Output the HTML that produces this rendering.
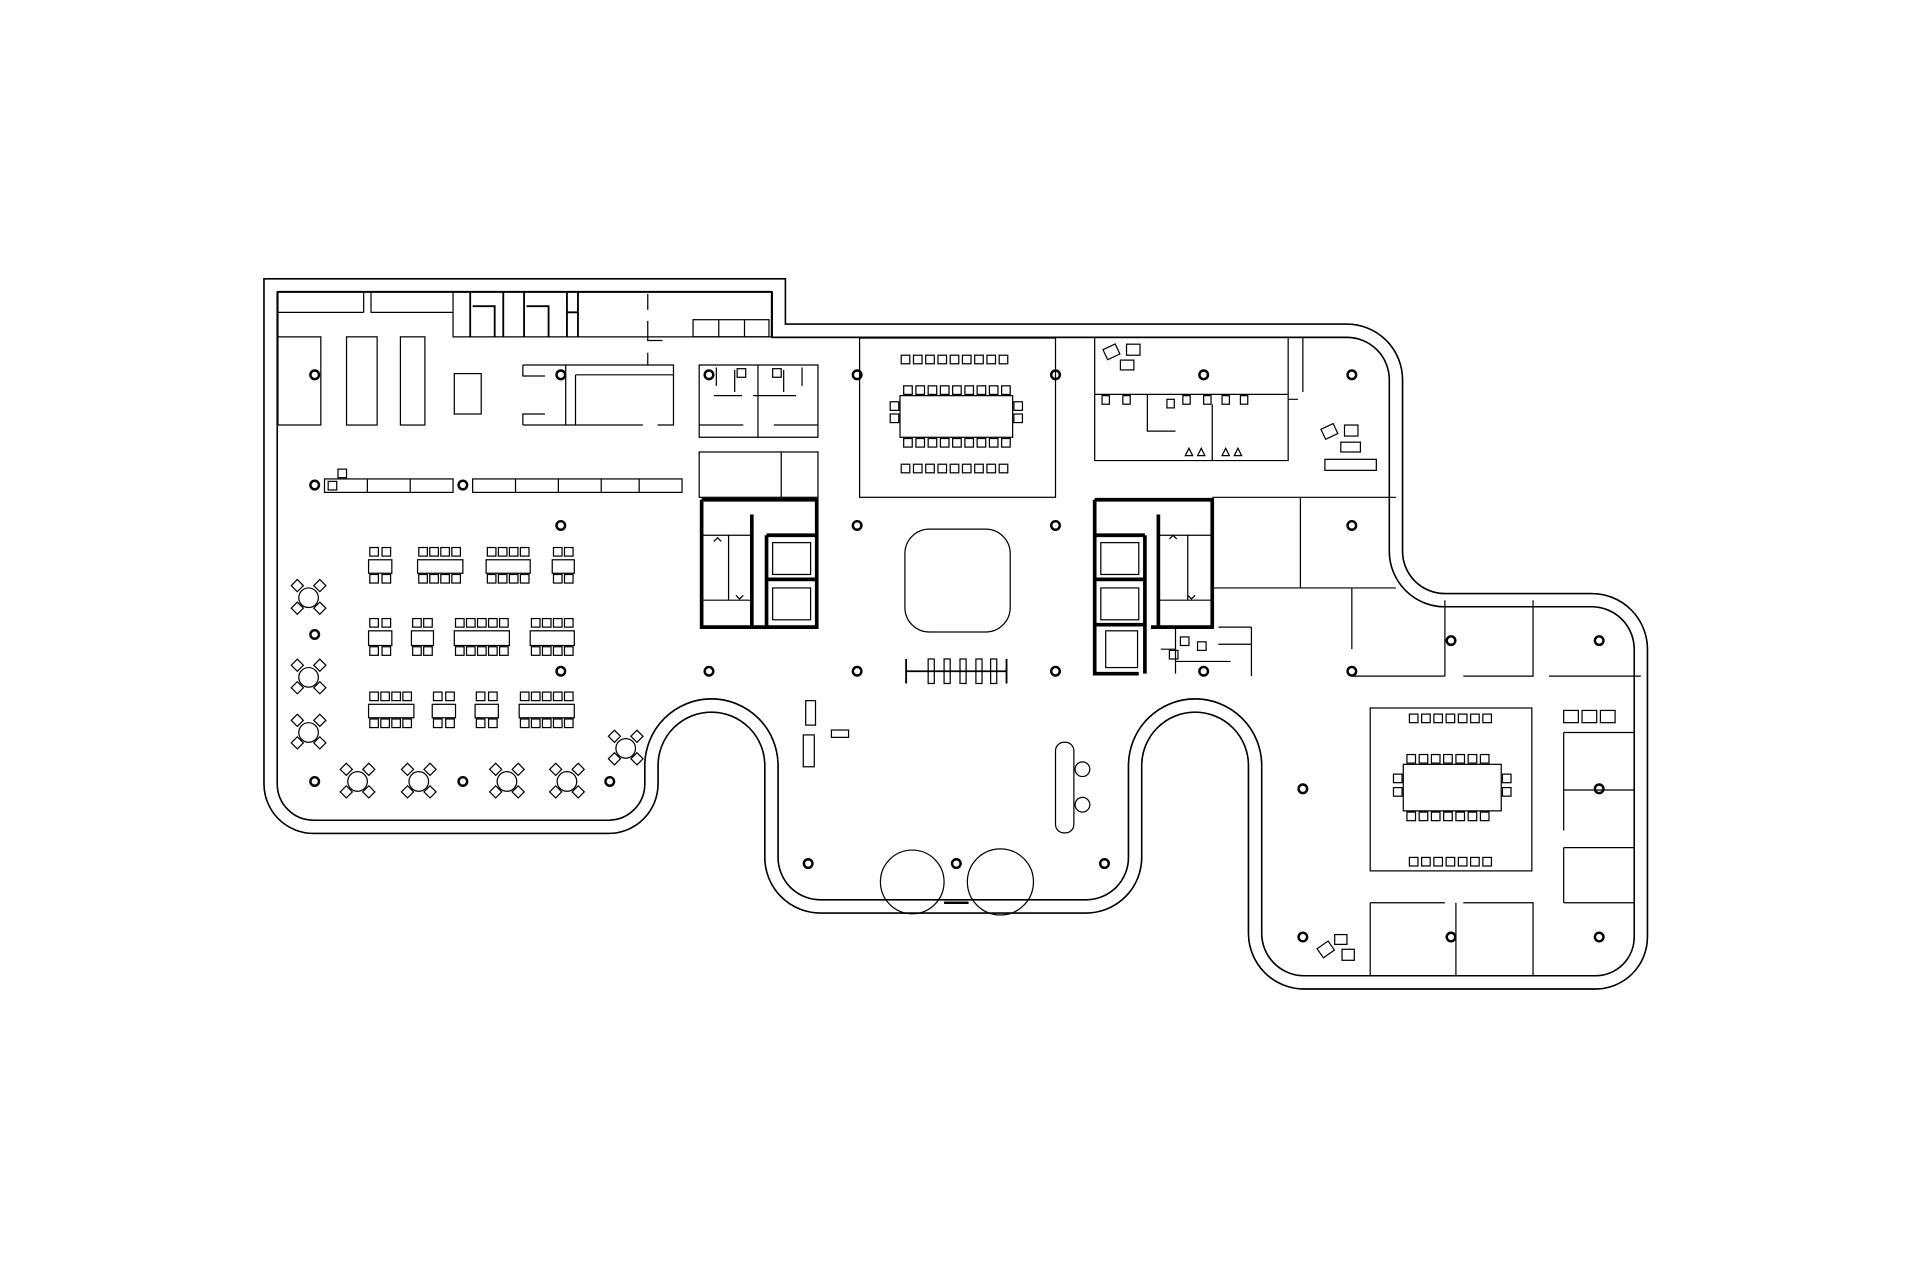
<!DOCTYPE html>
<html><head><meta charset="utf-8"><style>html,body{margin:0;padding:0;background:#fff}svg{display:block}</style></head>
<body>
<svg width="1920" height="1280" viewBox="0 0 1568 1045" preserveAspectRatio="none" xmlns="http://www.w3.org/2000/svg">
<defs>
<g id="ch"><rect x="0" y="0" width="7" height="7" fill="#fff" stroke="#000" stroke-width="1"/></g>
<g id="rt"><circle cx="0" cy="0" r="8" fill="#fff" stroke="#000" stroke-width="1"/>
<rect x="-4" y="-4" width="7" height="7" transform="rotate(45) translate(0,-13)" fill="#fff" stroke="#000"/>
<rect x="-4" y="-4" width="7" height="7" transform="rotate(45) translate(0,13)" fill="#fff" stroke="#000"/>
<rect x="-4" y="-4" width="7" height="7" transform="rotate(45) translate(13,0)" fill="#fff" stroke="#000"/>
<rect x="-4" y="-4" width="7" height="7" transform="rotate(45) translate(-13,0)" fill="#fff" stroke="#000"/></g>
<g id="col"><circle cx="0" cy="0" r="3.5" fill="none" stroke="#000" stroke-width="2"/></g>
</defs>
<rect width="1568" height="1045" fill="#fff"/>
<!-- outer wall -->
<path id="wall" d="M221,233 H636 V270 H1100 A40,40 0 0 1 1140,310 V450 A40,40 0 0 0 1180,490 H1300 A40,40 0 0 1 1340,530 V765 A37,37 0 0 1 1303,802 H1065 A40,40 0 0 1 1025,762 V625 A49,49 0 0 0 927,625 V700 A40,40 0 0 1 887,740 H670 A40,40 0 0 1 630,700 V625 A49,49 0 0 0 532,625 V640 A35,35 0 0 1 497,675 H256 A35,35 0 0 1 221,640 Z" fill="none" stroke="#000" stroke-width="12"/>
<use href="#wall" stroke="#fff" stroke-width="9.5"/>
<path d="M221,233 H636 V270 H1100 A40,40 0 0 1 1140,310 V450 A40,40 0 0 0 1180,490 H1300 A40,40 0 0 1 1340,530 V765 A37,37 0 0 1 1303,802 H1065 A40,40 0 0 1 1025,762 V625 A49,49 0 0 0 927,625 V700 A40,40 0 0 1 887,740 H670 A40,40 0 0 1 630,700 V625 A49,49 0 0 0 532,625 V640 A35,35 0 0 1 497,675 H256 A35,35 0 0 1 221,640 Z" fill="none" stroke="#fff" stroke-width="9.5"/>

<g fill="none" stroke="#000" stroke-width="1">
<!-- top left service -->
<path d="M227,347 V238 H370 V275 H630 V238 H227"/>
<path d="M227,255 H297 M303,238 V255 H370 M297,238 V255"/>
<path d="M227,275 H262 V347 H227"/>
<rect x="283" y="275" width="25" height="72"/><rect x="327" y="275" width="20" height="72"/><rect x="371" y="305" width="22" height="33"/>
<path d="M384,238 V275 M386,250 H404 V275 M411,238 V275 M428,238 V275 M430,250 H448 V275 M463,238 V275 M463,255 H472 M472,238 V275" stroke-width="1.5"/>
<path d="M529,240 V253 M529,262 V278 H541 M529,288 V298"/>
<rect x="566" y="261" width="62" height="14"/><path d="M587,261V275M608,261V275"/>
<path d="M427,298 H550 V347 H537 M525,347 H427 M427,298 V307 H445 M427,347 V338 H445 M462,298 V347 M470,306 H550 M470,306 V347"/>
<!-- small room block -->
<path d="M571,298 H668 V357 H571 Z" />
<path d="M619,298 V357 M583,323 H606 M615,323 H650 M571,347 H607 M632,347 H668 M600,302 V320 M640,302 V320 M585,300 V315 M655,300 V315"/>
<rect x="602" y="301" width="7" height="7"/><rect x="631" y="301" width="7" height="7"/>
<rect x="571" y="369" width="97" height="37"/><path d="M638,369 V406"/>
<!-- left elevator core -->
<path d="M573,408 V512 H667 V408 H573" stroke-width="3"/>
<path d="M614,420 V512 M626,437 V512 M626,437 H667 M626,473 H667" stroke-width="3"/>
<path d="M573,437 H614 M573,490 H614 M595,437 V490"/>
<rect x="631" y="443" width="31" height="26"/><rect x="631" y="480" width="31" height="26"/>
<!-- right elevator core -->
<path d="M894,408 V550 H930 M894,408 H990 V512 H940" stroke-width="3"/>
<path d="M946,420 V512 M935,437 V550 M894,437 H935 M894,473 H935 M894,510 H935" stroke-width="3"/>
<path d="M946,437 H990 M946,490 H990 M970,437 V490"/>
<rect x="899" y="443" width="31" height="26"/><rect x="899" y="480" width="31" height="26"/><rect x="903" y="515" width="26" height="30"/>
<path d="M960,512 V550 M948,530 H960 M990,482 V512 M995,512 H1022 M995,526 H1022 M1022,512 V552 M960,540 H1005"/>
<rect x="964" y="520" width="7" height="7"/><rect x="978" y="524" width="7" height="7"/><rect x="955" y="531" width="7" height="7"/>
<!-- conference center -->
<rect x="702" y="276" width="160" height="130"/>
<rect x="735" y="323" width="92" height="34"/>
<!-- upper right rooms -->
<path d="M894,276 V376 H1052 V276 M894,322 H1052 M937,322 V352 H960 M990,330 V376 M1052,326 H1060"/>
<path d="M990,406 H1140 M1062,406 V480 M990,480 H1140 M1064,276 V320"/>
<rect x="1082" y="375" width="42" height="9"/><rect x="1095" y="361" width="16" height="8"/>
<!-- right wing rooms -->
<path d="M1104,480 V530 M1104,552 H1180 M1180,490 V552 M1195,552 H1252 V490 M1265,552 H1340"/>
<rect x="1119" y="578" width="132" height="133"/>
<rect x="1146" y="624" width="80" height="38"/>
<path d="M1277,598 H1335 M1277,598 V678 M1277,692 V737 M1277,645 H1335 M1277,692 H1335 M1277,737 H1335"/>
<path d="M1119,737 V797 M1119,737 H1180 M1195,737 H1252 V797 M1189,737 V797"/>
<rect x="1277" y="580" width="12" height="10"/><rect x="1292" y="580" width="12" height="10"/><rect x="1307" y="580" width="12" height="10"/>
<!-- atrium -->
<rect x="739" y="432" width="86" height="84" rx="20"/>
<path d="M740,548 H822 M740,538 V558 M822,538 V558" stroke-width="1.5"/>
<rect x="758" y="538" width="5" height="20"/><rect x="771" y="538" width="5" height="20"/><rect x="784" y="538" width="5" height="20"/><rect x="797" y="538" width="5" height="20"/><rect x="809" y="538" width="5" height="20"/>
<!-- lobby furniture -->
<rect x="658" y="572" width="8" height="20"/><rect x="656" y="600" width="9" height="26"/><rect x="679" y="596" width="14" height="6"/>
<rect x="862" y="606" width="15" height="74" rx="7"/>
<circle cx="884" cy="628" r="6"/><circle cx="884" cy="657" r="6"/>
<circle cx="745" cy="720" r="26"/><circle cx="817" cy="720" r="27"/>
<path d="M771,737 H791" stroke-width="2"/>
<!-- counters -->
<rect x="265" y="391" width="105" height="11"/><path d="M300,391V402M335,391V402"/><rect x="268" y="393" width="7" height="7"/><rect x="276" y="383" width="7" height="7"/>
<rect x="386" y="391" width="171" height="11"/><path d="M421,391V402M456,391V402M491,391V402M522,391V402"/>
<!-- lounge items -->
<rect x="902" y="283" width="11" height="9" transform="rotate(-25 907 287)"/><rect x="920" y="281" width="11" height="9"/><rect x="915" y="294" width="11" height="8"/>
<rect x="1080" y="348" width="11" height="9" transform="rotate(-25 1085 352)"/><rect x="1098" y="347" width="11" height="9"/>
<rect x="1077" y="771" width="11" height="9" transform="rotate(-35 1082 775)"/><rect x="1090" y="763" width="10" height="8"/><rect x="1096" y="775" width="10" height="9"/>
</g>
<g stroke="#000" fill="none"><path d="M968,372 l3,-6 l3,6z M978,372 l3,-6 l3,6z M998,372 l3,-6 l3,6z M1008,372 l3,-6 l3,6z"/><path d="M583,442 l3,-3 l3,3 M601,486 l3,3 l3,-3 M955,440 l3,-3 l3,3 M970,486 l3,3 l3,-3"/></g>
<!-- small bathroom fixtures upper right -->
<g fill="#fff" stroke="#000"><rect x="900" y="323" width="6" height="7"/><rect x="917" y="323" width="6" height="7"/><rect x="953" y="326" width="6" height="7"/><rect x="966" y="323" width="6" height="7"/><rect x="983" y="323" width="6" height="7"/><rect x="998" y="323" width="6" height="7"/><rect x="1013" y="323" width="6" height="7"/></g>

<!-- conference chairs -->
<g>
<use href="#ch" x="736" y="290"/><use href="#ch" x="746" y="290"/><use href="#ch" x="756" y="290"/><use href="#ch" x="766" y="290"/><use href="#ch" x="776" y="290"/><use href="#ch" x="786" y="290"/><use href="#ch" x="796" y="290"/><use href="#ch" x="806" y="290"/><use href="#ch" x="816" y="290"/>
<use href="#ch" x="736" y="379"/><use href="#ch" x="746" y="379"/><use href="#ch" x="756" y="379"/><use href="#ch" x="766" y="379"/><use href="#ch" x="776" y="379"/><use href="#ch" x="786" y="379"/><use href="#ch" x="796" y="379"/><use href="#ch" x="806" y="379"/><use href="#ch" x="816" y="379"/>
<use href="#ch" x="738" y="315"/><use href="#ch" x="748" y="315"/><use href="#ch" x="758" y="315"/><use href="#ch" x="768" y="315"/><use href="#ch" x="778" y="315"/><use href="#ch" x="788" y="315"/><use href="#ch" x="798" y="315"/><use href="#ch" x="808" y="315"/><use href="#ch" x="818" y="315"/>
<use href="#ch" x="738" y="358"/><use href="#ch" x="748" y="358"/><use href="#ch" x="758" y="358"/><use href="#ch" x="768" y="358"/><use href="#ch" x="778" y="358"/><use href="#ch" x="788" y="358"/><use href="#ch" x="798" y="358"/><use href="#ch" x="808" y="358"/><use href="#ch" x="818" y="358"/>
<use href="#ch" x="727" y="328"/><use href="#ch" x="727" y="338"/><use href="#ch" x="828" y="328"/><use href="#ch" x="828" y="338"/>
<!-- right conference -->
<use href="#ch" x="1151" y="583"/><use href="#ch" x="1161" y="583"/><use href="#ch" x="1171" y="583"/><use href="#ch" x="1181" y="583"/><use href="#ch" x="1191" y="583"/><use href="#ch" x="1201" y="583"/><use href="#ch" x="1211" y="583"/>
<use href="#ch" x="1151" y="700"/><use href="#ch" x="1161" y="700"/><use href="#ch" x="1171" y="700"/><use href="#ch" x="1181" y="700"/><use href="#ch" x="1191" y="700"/><use href="#ch" x="1201" y="700"/><use href="#ch" x="1211" y="700"/>
<use href="#ch" x="1149" y="616"/><use href="#ch" x="1159" y="616"/><use href="#ch" x="1169" y="616"/><use href="#ch" x="1179" y="616"/><use href="#ch" x="1189" y="616"/><use href="#ch" x="1199" y="616"/><use href="#ch" x="1209" y="616"/>
<use href="#ch" x="1149" y="663"/><use href="#ch" x="1159" y="663"/><use href="#ch" x="1169" y="663"/><use href="#ch" x="1179" y="663"/><use href="#ch" x="1189" y="663"/><use href="#ch" x="1199" y="663"/><use href="#ch" x="1209" y="663"/>
<use href="#ch" x="1138" y="632"/><use href="#ch" x="1138" y="643"/><use href="#ch" x="1227" y="632"/><use href="#ch" x="1227" y="643"/>
</g>
<!-- dining tables -->
<g fill="none" stroke="#000">
<rect x="301" y="457" width="19" height="11"/><rect x="341" y="457" width="37" height="11"/><rect x="397" y="457" width="36" height="11"/><rect x="451" y="457" width="18" height="11"/>
<rect x="301" y="515" width="19" height="12"/><rect x="336" y="515" width="18" height="12"/><rect x="371" y="515" width="45" height="12"/><rect x="433" y="515" width="36" height="12"/>
<rect x="301" y="575" width="37" height="11"/><rect x="353" y="575" width="19" height="11"/><rect x="388" y="575" width="19" height="11"/><rect x="424" y="575" width="45" height="11"/>
</g>
<g>
<use href="#ch" x="302" y="447"/><use href="#ch" x="312" y="447"/><use href="#ch" x="302" y="469"/><use href="#ch" x="312" y="469"/>
<use href="#ch" x="342" y="447"/><use href="#ch" x="351" y="447"/><use href="#ch" x="360" y="447"/><use href="#ch" x="369" y="447"/><use href="#ch" x="342" y="469"/><use href="#ch" x="351" y="469"/><use href="#ch" x="360" y="469"/><use href="#ch" x="369" y="469"/>
<use href="#ch" x="398" y="447"/><use href="#ch" x="407" y="447"/><use href="#ch" x="416" y="447"/><use href="#ch" x="425" y="447"/><use href="#ch" x="398" y="469"/><use href="#ch" x="407" y="469"/><use href="#ch" x="416" y="469"/><use href="#ch" x="425" y="469"/>
<use href="#ch" x="452" y="447"/><use href="#ch" x="461" y="447"/><use href="#ch" x="452" y="469"/><use href="#ch" x="461" y="469"/>
<use href="#ch" x="302" y="505"/><use href="#ch" x="312" y="505"/><use href="#ch" x="302" y="528"/><use href="#ch" x="312" y="528"/>
<use href="#ch" x="337" y="505"/><use href="#ch" x="346" y="505"/><use href="#ch" x="337" y="528"/><use href="#ch" x="346" y="528"/>
<use href="#ch" x="372" y="505"/><use href="#ch" x="381" y="505"/><use href="#ch" x="390" y="505"/><use href="#ch" x="399" y="505"/><use href="#ch" x="408" y="505"/><use href="#ch" x="372" y="528"/><use href="#ch" x="381" y="528"/><use href="#ch" x="390" y="528"/><use href="#ch" x="399" y="528"/><use href="#ch" x="408" y="528"/>
<use href="#ch" x="434" y="505"/><use href="#ch" x="443" y="505"/><use href="#ch" x="452" y="505"/><use href="#ch" x="461" y="505"/><use href="#ch" x="434" y="528"/><use href="#ch" x="443" y="528"/><use href="#ch" x="452" y="528"/><use href="#ch" x="461" y="528"/>
<use href="#ch" x="302" y="565"/><use href="#ch" x="311" y="565"/><use href="#ch" x="320" y="565"/><use href="#ch" x="329" y="565"/><use href="#ch" x="302" y="587"/><use href="#ch" x="311" y="587"/><use href="#ch" x="320" y="587"/><use href="#ch" x="329" y="587"/>
<use href="#ch" x="354" y="565"/><use href="#ch" x="364" y="565"/><use href="#ch" x="354" y="587"/><use href="#ch" x="364" y="587"/>
<use href="#ch" x="389" y="565"/><use href="#ch" x="399" y="565"/><use href="#ch" x="389" y="587"/><use href="#ch" x="399" y="587"/>
<use href="#ch" x="425" y="565"/><use href="#ch" x="434" y="565"/><use href="#ch" x="443" y="565"/><use href="#ch" x="452" y="565"/><use href="#ch" x="461" y="565"/><use href="#ch" x="425" y="587"/><use href="#ch" x="434" y="587"/><use href="#ch" x="443" y="587"/><use href="#ch" x="452" y="587"/><use href="#ch" x="461" y="587"/>
</g>
<g>
<use href="#rt" x="252" y="488"/><use href="#rt" x="252" y="553"/><use href="#rt" x="252" y="598"/><use href="#rt" x="292" y="638"/><use href="#rt" x="342" y="638"/><use href="#rt" x="414" y="638"/><use href="#rt" x="463" y="638"/><use href="#rt" x="511" y="611"/>
</g>
<!-- columns -->
<g>
<use href="#col" x="257" y="306"/><use href="#col" x="458" y="306"/><use href="#col" x="579" y="306"/><use href="#col" x="700" y="306"/><use href="#col" x="862" y="306"/><use href="#col" x="983" y="306"/><use href="#col" x="1104" y="306"/>
<use href="#col" x="257" y="396"/><use href="#col" x="378" y="396"/><use href="#col" x="458" y="429"/><use href="#col" x="700" y="429"/><use href="#col" x="862" y="429"/><use href="#col" x="1104" y="429"/>
<use href="#col" x="257" y="518"/><use href="#col" x="458" y="548"/><use href="#col" x="579" y="548"/><use href="#col" x="700" y="548"/><use href="#col" x="862" y="548"/><use href="#col" x="983" y="548"/><use href="#col" x="1104" y="548"/><use href="#col" x="1185" y="523"/><use href="#col" x="1306" y="523"/>
<use href="#col" x="257" y="638"/><use href="#col" x="378" y="638"/><use href="#col" x="498" y="638"/><use href="#col" x="1064" y="644"/><use href="#col" x="1306" y="644"/>
<use href="#col" x="660" y="705"/><use href="#col" x="781" y="705"/><use href="#col" x="902" y="705"/><use href="#col" x="1064" y="765"/><use href="#col" x="1185" y="765"/><use href="#col" x="1306" y="765"/>
</g>
</svg>
</body></html>
